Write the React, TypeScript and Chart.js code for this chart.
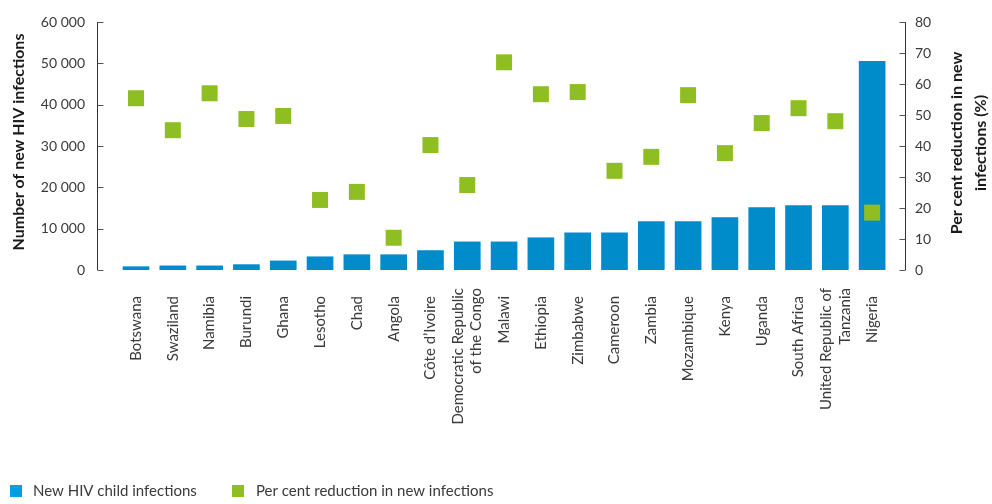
import { useEffect, useRef } from 'react';
import { Chart, registerables } from 'chart.js';

Chart.register(...registerables);

const countries: (string | string[])[] = [
  'Botswana', 'Swaziland', 'Namibia', 'Burundi', 'Ghana', 'Lesotho', 'Chad', 'Angola',
  'Côte d’Ivoire', ['Democratic Republic', 'of the Congo'], 'Malawi', 'Ethiopia', 'Zimbabwe',
  'Cameroon', 'Zambia', 'Mozambique', 'Kenya', 'Uganda', 'South Africa',
  ['United Republic of', 'Tanzania'], 'Nigeria',
];
const newInfections = [
  800, 1000, 1000, 1300, 2200, 3200, 3700, 3700, 4700, 6800, 6800, 7800, 9000,
  9000, 11700, 11700, 12700, 15100, 15600, 15600, 50500,
];
const reductionPct = [
  55.4, 45.1, 57.0, 48.7, 49.7, 22.6, 25.2, 10.4, 40.3, 27.4, 67.0, 56.7, 57.4,
  32.0, 36.5, 56.4, 37.7, 47.4, 52.2, 48.0, 18.5,
];
const leftTicks = [0, 10000, 20000, 30000, 40000, 50000, 60000];
const rightTicks = [0, 10, 20, 30, 40, 50, 60, 70, 80];
const leftTitle = 'Number of new HIV infections';
const rightTitle = ['Per cent reduction in new', 'infections (%)'];
const legendLabels = ['New HIV child infections', 'Per cent reduction in new infections'];

const FONT = 'Lato, "Open Sans", sans-serif';
const BAR = '#008bcb';
const LEGEND_BLUE = '#009fe3';
const GREEN = '#8fbe22';
const TEXT = '#3a3a3a';
const X_FONT_SIZE = 15;
const X_LINE_H = 18.75;
const X_PAD = 18;

const fmt = (v: number) => String(v).replace(/\B(?=(\d{3})+(?!\d))/g, ' ');

// font size (bold) so that `text` spans `target` pixels
const fitBold = (ctx: CanvasRenderingContext2D, text: string, target: number) => {
  ctx.font = `bold 14px ${FONT}`;
  const w = ctx.measureText(text).width;
  const s = w > 0 ? (14 * target) / w : 14;
  return Math.max(13, Math.min(16.5, s));
};

const decor = {
  id: 'decor',
  afterDraw(chart: any) {
    const { ctx, chartArea, scales } = chart;
    ctx.save();
    // axis lines
    ctx.strokeStyle = '#333';
    ctx.lineWidth = 1;
    const lx = Math.round(chartArea.left) + 0.5;
    const rx0 = Math.round(chartArea.right) - 0.5;
    ctx.beginPath();
    ctx.moveTo(lx, scales.y.getPixelForValue(60000));
    ctx.lineTo(lx, scales.y.getPixelForValue(0));
    ctx.moveTo(rx0, scales.y1.getPixelForValue(80));
    ctx.lineTo(rx0, scales.y1.getPixelForValue(0));
    ctx.stroke();
    // inward tick marks
    ctx.strokeStyle = '#555';
    scales.y.ticks.forEach((t: any) => {
      const py = Math.round(scales.y.getPixelForValue(t.value)) + 0.5;
      ctx.beginPath();
      ctx.moveTo(lx, py);
      ctx.lineTo(lx + 6, py);
      ctx.stroke();
    });
    scales.y1.ticks.forEach((t: any) => {
      const py = Math.round(scales.y1.getPixelForValue(t.value)) + 0.5;
      ctx.beginPath();
      ctx.moveTo(rx0 - 6, py);
      ctx.lineTo(rx0, py);
      ctx.stroke();
    });
    // multi-line category labels, centred on their category
    ctx.fillStyle = TEXT;
    ctx.font = `${X_FONT_SIZE}px ${FONT}`;
    ctx.textAlign = 'right';
    ctx.textBaseline = 'middle';
    countries.forEach((c, i) => {
      if (!Array.isArray(c)) return;
      const px = scales.x.getPixelForValue(i);
      c.forEach((line, j) => {
        const off = (j - (c.length - 1) / 2) * X_LINE_H;
        ctx.save();
        ctx.translate(px + off, chartArea.bottom + X_PAD);
        ctx.rotate(-Math.PI / 2);
        ctx.fillText(line, 0, 0);
        ctx.restore();
      });
    });
    // axis titles
    const leftSize = fitBold(ctx, leftTitle, 217);
    const rightSize = fitBold(ctx, rightTitle[0], 183);
    ctx.fillStyle = '#1a1a1a';
    ctx.textAlign = 'center';
    ctx.textBaseline = 'middle';
    ctx.font = `bold ${leftSize}px ${FONT}`;
    ctx.save();
    ctx.translate(19, 142);
    ctx.rotate(-Math.PI / 2);
    ctx.fillText(leftTitle, 0, 0);
    ctx.restore();
    ctx.font = `bold ${rightSize}px ${FONT}`;
    const rx = [957, 981];
    rightTitle.forEach((line, i) => {
      ctx.save();
      ctx.translate(rx[i], 143);
      ctx.rotate(-Math.PI / 2);
      ctx.fillText(line, 0, 0);
      ctx.restore();
    });
    // legend
    ctx.font = `15px ${FONT}`;
    ctx.textAlign = 'left';
    ctx.fillStyle = LEGEND_BLUE;
    ctx.fillRect(10, 485, 12, 12);
    ctx.fillStyle = GREEN;
    ctx.fillRect(232, 485, 12, 12);
    ctx.fillStyle = TEXT;
    ctx.fillText(legendLabels[0], 33, 491.5);
    ctx.fillText(legendLabels[1], 256, 491.5);
    ctx.restore();
  },
};

export default function App() {
  const ref = useRef<HTMLCanvasElement>(null);
  useEffect(() => {
    document.body.style.margin = '0';
    const chart = new Chart(ref.current!, {
      type: 'bar',
      data: {
        datasets: [
          {
            type: 'line',
            label: legendLabels[1],
            data: reductionPct.map((v, i) => ({ x: i, y: v })),
            yAxisID: 'y1',
            showLine: false,
            pointStyle: 'rect',
            pointRadius: 11.31,
            pointHoverRadius: 11.31,
            pointBackgroundColor: GREEN,
            pointBorderWidth: 0,
            borderWidth: 0,
            order: 0,
          } as any,
          {
            type: 'bar',
            label: legendLabels[0],
            data: newInfections.map((v, i) => ({ x: i, y: v })),
            yAxisID: 'y',
            backgroundColor: BAR,
            barThickness: 26,
            order: 1,
          } as any,
        ],
      },
      options: {
        animation: false,
        responsive: true,
        maintainAspectRatio: false,
        layout: { padding: { top: 22, left: 0, right: 0, bottom: 0 } },
        plugins: { legend: { display: false }, tooltip: { enabled: false } },
        scales: {
          x: {
            type: 'linear',
            offset: false,
            min: -1.06,
            max: 20.92,
            afterBuildTicks: (s: any) => {
              s.ticks = countries.map((_, i) => ({ value: i }));
            },
            afterFit: (s: any) => {
              s.height = 234;
            },
            ticks: {
              autoSkip: false,
              minRotation: 90,
              maxRotation: 90,
              padding: X_PAD,
              color: TEXT,
              font: { family: FONT, size: X_FONT_SIZE },
              callback: (v: any) => {
                const c = countries[v];
                return typeof c === 'string' ? c : '';
              },
            },
            grid: { display: false, offset: false },
            border: { display: false },
          },
          y: {
            position: 'left',
            min: 0,
            max: 60000,
            afterBuildTicks: (s: any) => {
              s.ticks = leftTicks.map((v) => ({ value: v }));
            },
            afterFit: (s: any) => {
              s.width = 97;
            },
            ticks: {
              padding: 12,
              color: TEXT,
              font: { family: FONT, size: 14 },
              callback: (v: any) => fmt(v),
            },
            grid: { display: false, drawTicks: false },
            border: { display: false },
          },
          y1: {
            position: 'right',
            min: 0,
            max: 80,
            afterBuildTicks: (s: any) => {
              s.ticks = rightTicks.map((v) => ({ value: v }));
            },
            afterFit: (s: any) => {
              s.width = 86;
            },
            ticks: {
              padding: 9,
              color: TEXT,
              font: { family: FONT, size: 14 },
            },
            grid: { display: false, drawTicks: false },
            border: { display: false },
          },
        },
      },
      plugins: [decor],
    });
    return () => chart.destroy();
  }, []);
  return (
    <div style={{ position: 'relative', width: 992, height: 504 }}>
      <canvas ref={ref} />
    </div>
  );
}
